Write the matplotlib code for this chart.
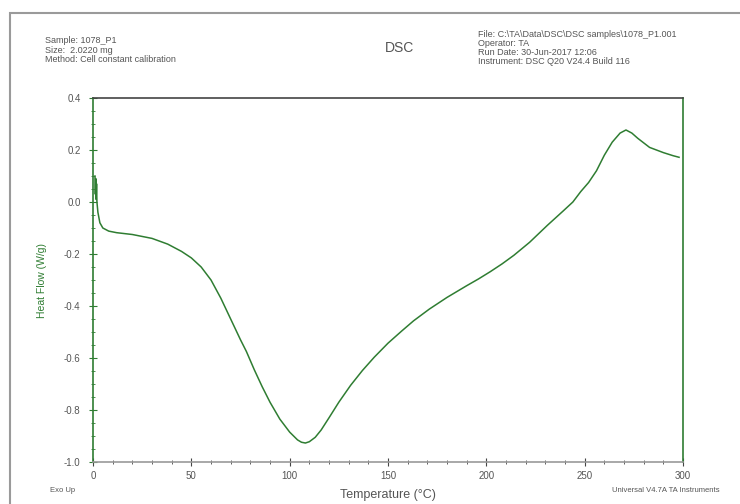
import matplotlib
matplotlib.use('Agg')
import matplotlib.pyplot as plt
from matplotlib.ticker import MultipleLocator

"""
    DSC curve - sample 1078_P1, heat flow vs temperature
"""
# temperature (C)
temp = [1.0, 1.2, 1.4, 1.6, 1.8, 2.0, 2.5, 3.5, 5, 8, 12, 20, 30, 38, 45, 50, 55,
        60, 65, 70, 75, 78, 82, 86, 90, 95, 100, 104, 106, 108, 110, 113, 116, 120,
        125, 131, 137, 143, 150, 157, 163, 171, 180, 190, 196, 202, 208, 214, 222,
        231, 239, 244, 248, 252, 256, 260, 264, 268, 271, 274, 277, 283, 290, 295, 298]
# heat flow (W/g)
heat_flow = [0.10, 0.03, 0.09, 0.01, 0.07, 0.0, -0.04, -0.08, -0.10, -0.112, -0.118,
             -0.125, -0.14, -0.162, -0.19, -0.215, -0.25, -0.30, -0.37, -0.45, -0.53,
             -0.575, -0.645, -0.71, -0.77, -0.835, -0.885, -0.915, -0.924, -0.927,
             -0.922, -0.905, -0.877, -0.83, -0.77, -0.705, -0.648, -0.597, -0.543,
             -0.496, -0.457, -0.412, -0.367, -0.322, -0.296, -0.268, -0.238, -0.205,
             -0.155, -0.09, -0.035, 0.0, 0.04, 0.075, 0.12, 0.18, 0.23, 0.265, 0.277,
             0.265, 0.245, 0.21, 0.19, 0.178, 0.172]

header_left = 'Sample: 1078_P1\nSize:  2.0220 mg\nMethod: Cell constant calibration'
header_right = ('File: C:\\TA\\Data\\DSC\\DSC samples\\1078_P1.001\nOperator: TA\n'
                'Run Date: 30-Jun-2017 12:06\nInstrument: DSC Q20 V24.4 Build 116')

GREEN = '#2f7d32'
GRAY = '#555555'

plt.rcParams['font.family'] = ['Liberation Sans', 'DejaVu Sans']


def main():
    fig = plt.figure(figsize=(7.4, 5.04), dpi=100)

    # outer frame of the printout
    fig.patches.append(plt.Rectangle((10 / 740, -0.01), 1.0, 1 - 13 / 504 + 0.01,
                                     transform=fig.transFigure, fill=False,
                                     edgecolor='#9a9a9a', linewidth=1.5))

    ax = fig.add_axes([93 / 740, 1 - 462 / 504, 590 / 740, 364 / 504])
    ax.plot(temp, heat_flow, color=GREEN, linewidth=1.1)

    ax.set_xlim(0, 300)
    ax.set_ylim(-1.0, 0.4)
    ax.xaxis.set_major_locator(MultipleLocator(50))
    ax.xaxis.set_minor_locator(MultipleLocator(10))
    ax.yaxis.set_major_locator(MultipleLocator(0.2))
    ax.yaxis.set_minor_locator(MultipleLocator(0.05))
    ax.yaxis.set_major_formatter(plt.FuncFormatter(lambda v, p: '%.1f' % v))

    ax.tick_params(axis='both', which='major', direction='inout', length=6,
                   labelsize=7, labelcolor=GRAY)
    ax.tick_params(axis='both', which='minor', direction='inout', length=3)
    ax.tick_params(axis='y', which='both', color=GREEN, pad=6)
    ax.tick_params(axis='x', which='both', color='#444444')

    ax.spines['left'].set_color(GREEN)
    ax.spines['right'].set_color(GREEN)
    ax.spines['top'].set_color('#444444')
    ax.spines['bottom'].set_color('#999999')
    for s in ax.spines.values():
        s.set_linewidth(1.2)

    ax.set_ylabel('Heat Flow (W/g)', color=GREEN, fontsize=7.5, labelpad=12)
    ax.set_xlabel('Temperature (°C)', color=GRAY, fontsize=9, labelpad=6)

    fig.text(45 / 740, 1 - 36 / 504, header_left, fontsize=6.5, color=GRAY,
             va='top', linespacing=1.1)
    fig.text(400 / 740, 1 - 48 / 504, 'DSC', fontsize=10, color=GRAY,
             ha='center', va='center')
    fig.text(478 / 740, 1 - 30 / 504, header_right, fontsize=6.5, color=GRAY,
             va='top', linespacing=1.0)
    fig.text(50 / 740, 1 - 490 / 504, 'Exo Up', fontsize=5.5, color=GRAY,
             va='center')
    fig.text(612 / 740, 1 - 490 / 504, 'Universal V4.7A TA Instruments',
             fontsize=5.5, color=GRAY, va='center')

    fig.savefig('out.png', dpi=100)


if __name__ == '__main__':
    main()
